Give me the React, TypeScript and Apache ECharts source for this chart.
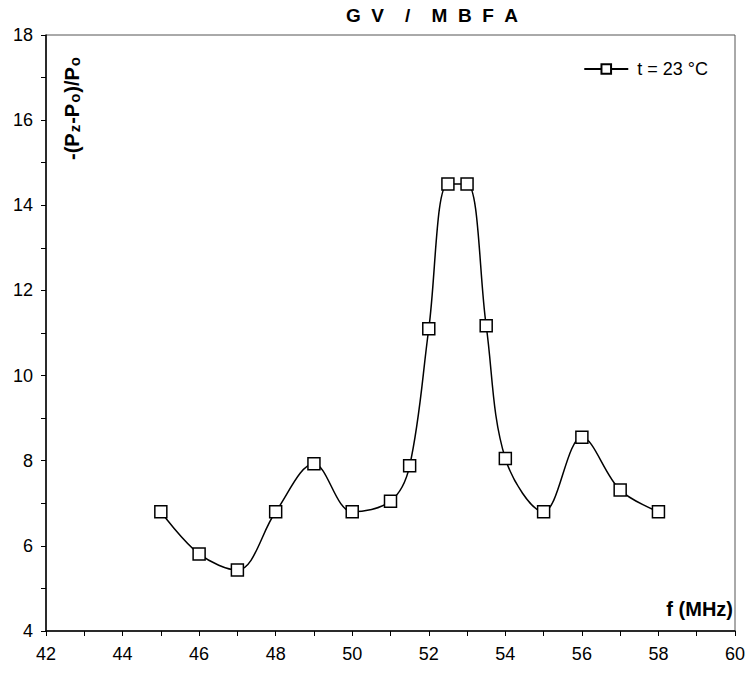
import React, { useEffect, useRef } from "react";
import * as echarts from "echarts";

const freq = [45, 46, 47, 48, 49, 50, 51, 51.5, 52, 52.5, 53, 53.5, 54, 55, 56, 57, 58];
const values = [6.8, 5.81, 5.43, 6.8, 7.93, 6.8, 7.05, 7.88, 11.1, 14.5, 14.5, 11.17, 8.05, 6.8, 8.55, 7.31, 6.8];
const seriesName = "t = 23 °C";
const S = "\u00A0";
const titleText = ["G", "V", S + S + "/" + S + S, "M", "B", "F", "A"].join(S + S);

export default function App() {
  const ref = useRef<HTMLDivElement>(null);
  useEffect(() => {
    if (!ref.current) return;
    const chart = echarts.init(ref.current, undefined, { renderer: "svg" });
    const font = "'Liberation Sans', Arial, sans-serif";
    chart.setOption({
      animation: false,
      backgroundColor: "#fff",
      title: {
        text: titleText,
        left: 341,
        top: 1,
        textStyle: { fontFamily: font, fontSize: 19, fontWeight: "bold", color: "#000" },
      },
      legend: {
        right: 36,
        top: 55,
        itemWidth: 44,
        itemHeight: 12,
        itemGap: 10,
        textStyle: { fontFamily: font, fontSize: 18, color: "#000", padding: [0, 0, 0, 4] },
        data: [seriesName],
      },
      grid: {
        left: 46,
        right: 14,
        top: 35,
        bottom: 47,
        show: true,
        borderColor: "#555",
        borderWidth: 1,
        backgroundColor: "transparent",
      },
      xAxis: {
        type: "value",
        min: 42,
        max: 60,
        interval: 1,
        axisLine: { lineStyle: { color: "#000", width: 1.5 } },
        axisTick: { length: 5, lineStyle: { color: "#000", width: 1 } },
        splitLine: { show: false },
        axisLabel: {
          fontFamily: font,
          fontSize: 18,
          color: "#000",
          margin: 14,
          formatter: (v: number) => (v % 2 === 0 ? String(v) : ""),
        },
      },
      yAxis: {
        type: "value",
        min: 4,
        max: 18,
        interval: 1,
        axisLine: { lineStyle: { color: "#000", width: 1.5 } },
        axisTick: { length: 5, lineStyle: { color: "#000", width: 1 } },
        splitLine: { show: false },
        axisLabel: {
          fontFamily: font,
          fontSize: 18,
          color: "#000",
          margin: 13,
          formatter: (v: number) => (v % 2 === 0 ? String(v) : ""),
        },
      },
      graphic: [
        {
          type: "text",
          x: 62,
          y: 160,
          rotation: Math.PI / 2,
          style: {
            text: "-(P{s|z}-P{s|o})/P{s|o}",
            font: `bold 20px ${font}`,
            fill: "#000",
            textAlign: "left",
            textVerticalAlign: "top",
            rich: {
              s: { fontSize: 15, fontWeight: "bold", fontFamily: font, padding: [5, 1, 0, 1] },
            },
          },
        },
        {
          type: "text",
          x: 733,
          y: 599,
          style: {
            text: "f (MHz)",
            font: `bold 20px ${font}`,
            fill: "#000",
            textAlign: "right",
            textVerticalAlign: "top",
          },
        },
      ],
      series: [
        {
          name: seriesName,
          type: "line",
          smooth: 0.35,
          data: freq.map((f, i) => [f, values[i]]),
          symbol: "rect",
          symbolSize: 12,
          lineStyle: { color: "#000", width: 1.5 },
          itemStyle: { color: "#fff", borderColor: "#000", borderWidth: 1.5 },
        },
      ],
    });
    return () => chart.dispose();
  }, []);
  return <div ref={ref} style={{ width: 749, height: 678, position: "absolute", left: 0, top: 0 }} />;
}
